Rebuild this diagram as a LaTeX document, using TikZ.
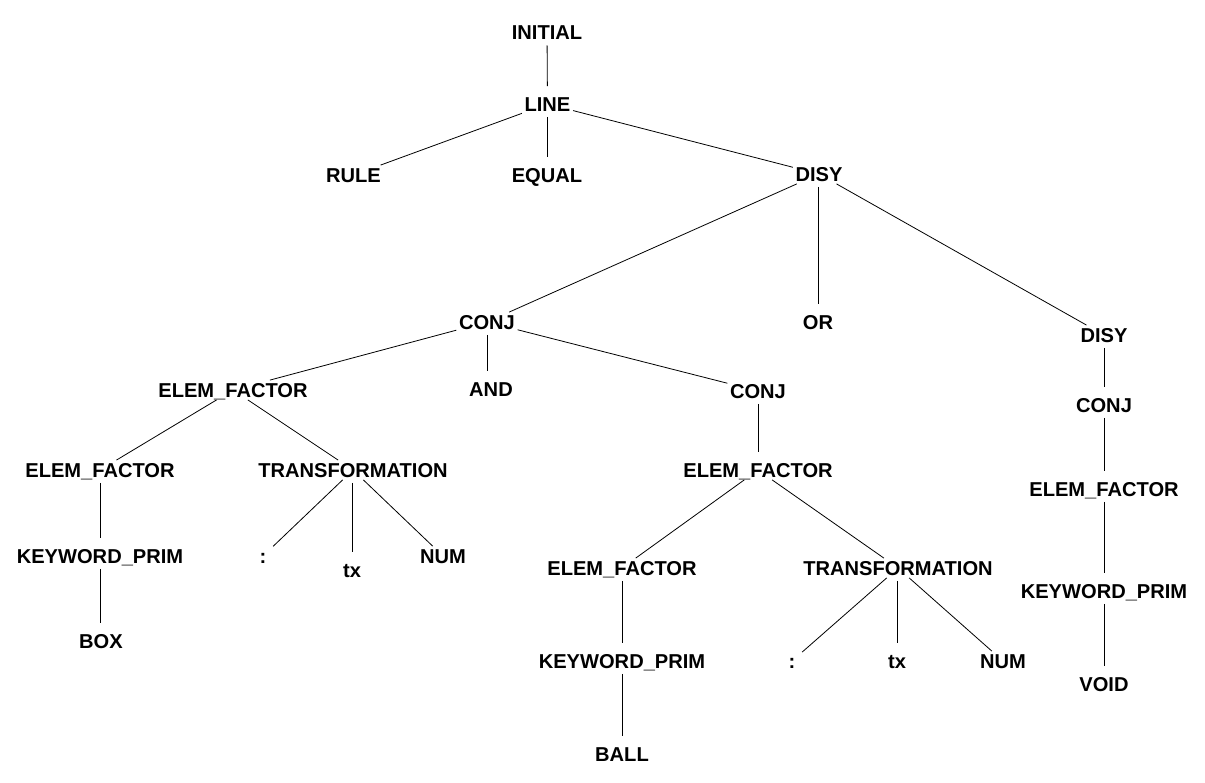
\documentclass[tikz,border=0pt]{standalone}
\usepackage{fontspec}
\setmainfont{Liberation Sans}
\begin{document}
\begin{tikzpicture}[x=1pt,y=-1pt,
  lbl/.style={font=\fontsize{20.1}{21}\selectfont\bfseries, text height=14.4pt, text depth=0pt, inner sep=2.5pt},
  colon/.style={lbl, minimum width=20pt},
  edge/.style={draw=black, line width=0.8pt},
  vedge/.style={edge, shorten <=3pt, shorten >=8pt}]
\fill[white] (0,0) rectangle (1205,783);
\useasboundingbox (0,0) rectangle (1205,783);
% nodes
\node[lbl] (INITIAL) at (547,32.5) {INITIAL};
\node[lbl] (LINE) at (547.5,104) {LINE};
\node[lbl] (RULE) at (353.5,175) {RULE};
\node[lbl] (EQUAL) at (547,175) {EQUAL};
\node[lbl] (DISY) at (819,174) {DISY};
\node[lbl] (CONJ) at (487,322) {CONJ};
\node[lbl] (OR) at (818,322) {OR};
\node[lbl] (DISYb) at (1104,335) {DISY};
\node[lbl] (EFa) at (233,390) {ELEM\_FACTOR};
\node[lbl] (AND) at (491,389) {AND};
\node[lbl] (CONJb) at (758,391) {CONJ};
\node[lbl] (CONJc) at (1104,405) {CONJ};
\node[lbl] (EFb) at (100,470) {ELEM\_FACTOR};
\node[lbl] (TRa) at (353,470) {TRANSFORMATION};
\node[lbl] (EFc) at (758,470) {ELEM\_FACTOR};
\node[lbl] (EFd) at (1104,489) {ELEM\_FACTOR};
\node[lbl] (KPa) at (100,556) {KEYWORD\_PRIM};
\node[colon] (COLa) at (263,556) {:};
\node[lbl] (TXa) at (352,570) {tx};
\node[lbl] (NUMa) at (443,556) {NUM};
\node[lbl] (EFe) at (622,568) {ELEM\_FACTOR};
\node[lbl] (TRb) at (898,568) {TRANSFORMATION};
\node[lbl] (KPd) at (1104,591) {KEYWORD\_PRIM};
\node[lbl] (BOX) at (101,641) {BOX};
\node[lbl] (KPb) at (622,661) {KEYWORD\_PRIM};
\node[colon] (COLb) at (792,661) {:};
\node[lbl] (TXb) at (897,661) {tx};
\node[lbl] (NUMb) at (1003,661) {NUM};
\node[lbl] (VOID) at (1104,684) {VOID};
\node[lbl] (BALL) at (622,754) {BALL};
% vertical edges
\draw[vedge] (INITIAL) -- (LINE);
\draw[vedge] (LINE.south) -- (LINE.south |- EQUAL.north);
\draw[vedge] (DISY.south -| OR) -- (OR.north);
\draw[vedge] (CONJ.south) -- (CONJ.south |- AND.north);
\draw[vedge] (EFb) -- (KPa);
\draw[vedge] (KPa) -- (BOX.north -| KPa);
\draw[vedge] (TRa.south -| TXa) -- (TXa.north);
\draw[vedge] (CONJb) -- (EFc);
\draw[vedge] (EFe) -- (KPb);
\draw[vedge] (KPb) -- (BALL);
\draw[vedge] (TRb.south -| TXb) -- (TXb.north);
\draw[vedge] (DISYb) -- (CONJc);
\draw[vedge] (CONJc) -- (EFd);
\draw[vedge] (EFd) -- (KPd);
\draw[vedge] (KPd) -- (VOID);
% slanted edges
\draw[edge] (LINE) -- (RULE);
\draw[edge] (LINE) -- (DISY);
\draw[edge] (DISY) -- (CONJ);
\draw[edge] (DISY) -- (DISYb);
\draw[edge] (CONJ) -- (EFa);
\draw[edge] (CONJ) -- (CONJb);
\draw[edge] (EFa) -- (EFb);
\draw[edge] (EFa) -- (TRa);
\draw[edge] (TRa) -- (COLa);
\draw[edge] (TRa) -- (NUMa);
\draw[edge] (EFc) -- (EFe);
\draw[edge] (EFc) -- (TRb);
\draw[edge] (TRb) -- (COLb);
\draw[edge] (TRb) -- (NUMb);
\end{tikzpicture}
\end{document}
